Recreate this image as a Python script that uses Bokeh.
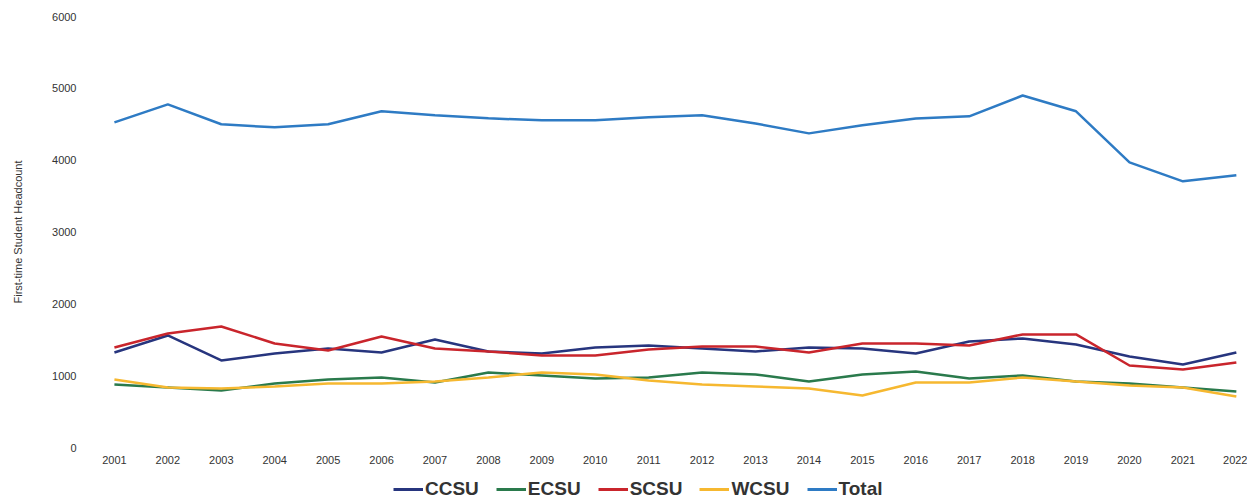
from bokeh.plotting import figure
from bokeh.layouts import column
from bokeh.models import Range1d, FixedTicker, Legend, LegendItem
from bokeh.embed import file_html
from bokeh.resources import INLINE

years = list(range(2001, 2023))
ccsu = [1323, 1560, 1212, 1309, 1379, 1323, 1504, 1337, 1309, 1393, 1420, 1379,
        1337, 1393, 1379, 1309, 1476, 1518, 1434, 1267, 1156, 1323]
ecsu = [877, 836, 794, 891, 947, 975, 905, 1045, 1003, 961, 975, 1045,
        1017, 919, 1017, 1058, 961, 1003, 919, 891, 836, 780]
scsu = [1393, 1588, 1685, 1448, 1351, 1546, 1379, 1337, 1281, 1281, 1365, 1407,
        1407, 1323, 1448, 1448, 1420, 1574, 1574, 1142, 1086, 1184]
wcsu = [947, 836, 822, 850, 891, 891, 919, 975, 1045, 1017, 933, 877,
        850, 822, 724, 905, 905, 975, 919, 864, 836, 710]
total = [4526, 4777, 4500, 4457, 4500, 4680, 4624, 4582, 4554, 4554, 4596, 4624,
         4510, 4373, 4485, 4580, 4610, 4900, 4680, 3970, 3705, 3790]
y_ticks = [0, 1000, 2000, 3000, 4000, 5000, 6000]

series = [("CCSU", ccsu, "#27357e"), ("ECSU", ecsu, "#2a7a4c"),
          ("SCSU", scsu, "#c9252c"), ("WCSU", wcsu, "#f6b830"),
          ("Total", total, "#2e7bc4")]

p = figure(frame_width=1162, frame_height=431, output_backend="svg",
           toolbar_location=None,
           x_range=Range1d(2000.44, 2022.19), y_range=Range1d(0, 6000),
           min_border_top=16, min_border_right=1, min_border_left=84,
           min_border_bottom=26)
p.outline_line_color = None
p.xgrid.visible = False
p.ygrid.visible = False

for name, vals, col in series:
    p.line(years, vals, line_color=col, line_width=2.5)

for ax in (p.xaxis[0], p.yaxis[0]):
    ax.axis_line_color = None
    ax.major_tick_line_color = None
    ax.minor_tick_line_color = None
    ax.major_tick_out = 0
    ax.major_tick_in = 0
    ax.minor_tick_out = 0
    ax.minor_tick_in = 0
    ax.major_label_text_font = "Liberation Sans"
    ax.major_label_text_font_size = "11px"
    ax.major_label_text_color = "#333333"
    ax.major_label_standoff = 8

p.xaxis.ticker = FixedTicker(ticks=years)
p.yaxis.ticker = FixedTicker(ticks=y_ticks)
p.yaxis.axis_label = "First-time Student Headcount"
p.yaxis.axis_label_text_font = "Liberation Sans"
p.yaxis.axis_label_text_font_size = "11px"
p.yaxis.axis_label_text_font_style = "normal"
p.yaxis.axis_label_text_color = "#333333"
p.yaxis.axis_label_standoff = 25

# legend strip below the chart (lines drawn outside its visible range)
lg = figure(width=1247, height=30, output_backend="svg", toolbar_location=None,
            x_range=Range1d(2000.44, 2022.19), y_range=Range1d(-20000, -19000),
            min_border=0, x_axis_location=None, y_axis_location=None)
lg.outline_line_color = None
lg.xgrid.visible = False
lg.ygrid.visible = False
items = []
for name, vals, col in series:
    r = lg.line(years, vals, line_color=col, line_width=3)
    items.append(LegendItem(label=name, renderers=[r]))

legend = Legend(items=items, orientation="horizontal", location=(309, 3),
                label_text_font="Liberation Sans", label_text_font_style="bold",
                label_text_font_size="19px", label_text_color="#333333",
                glyph_width=30, glyph_height=12, label_height=16,
                label_standoff=2, spacing=17,
                padding=0, margin=0, border_line_color=None,
                background_fill_alpha=0)
lg.add_layout(legend, "center")

layout = column(p, lg, spacing=0)
open("out.html", "w").write(file_html(layout, INLINE))
